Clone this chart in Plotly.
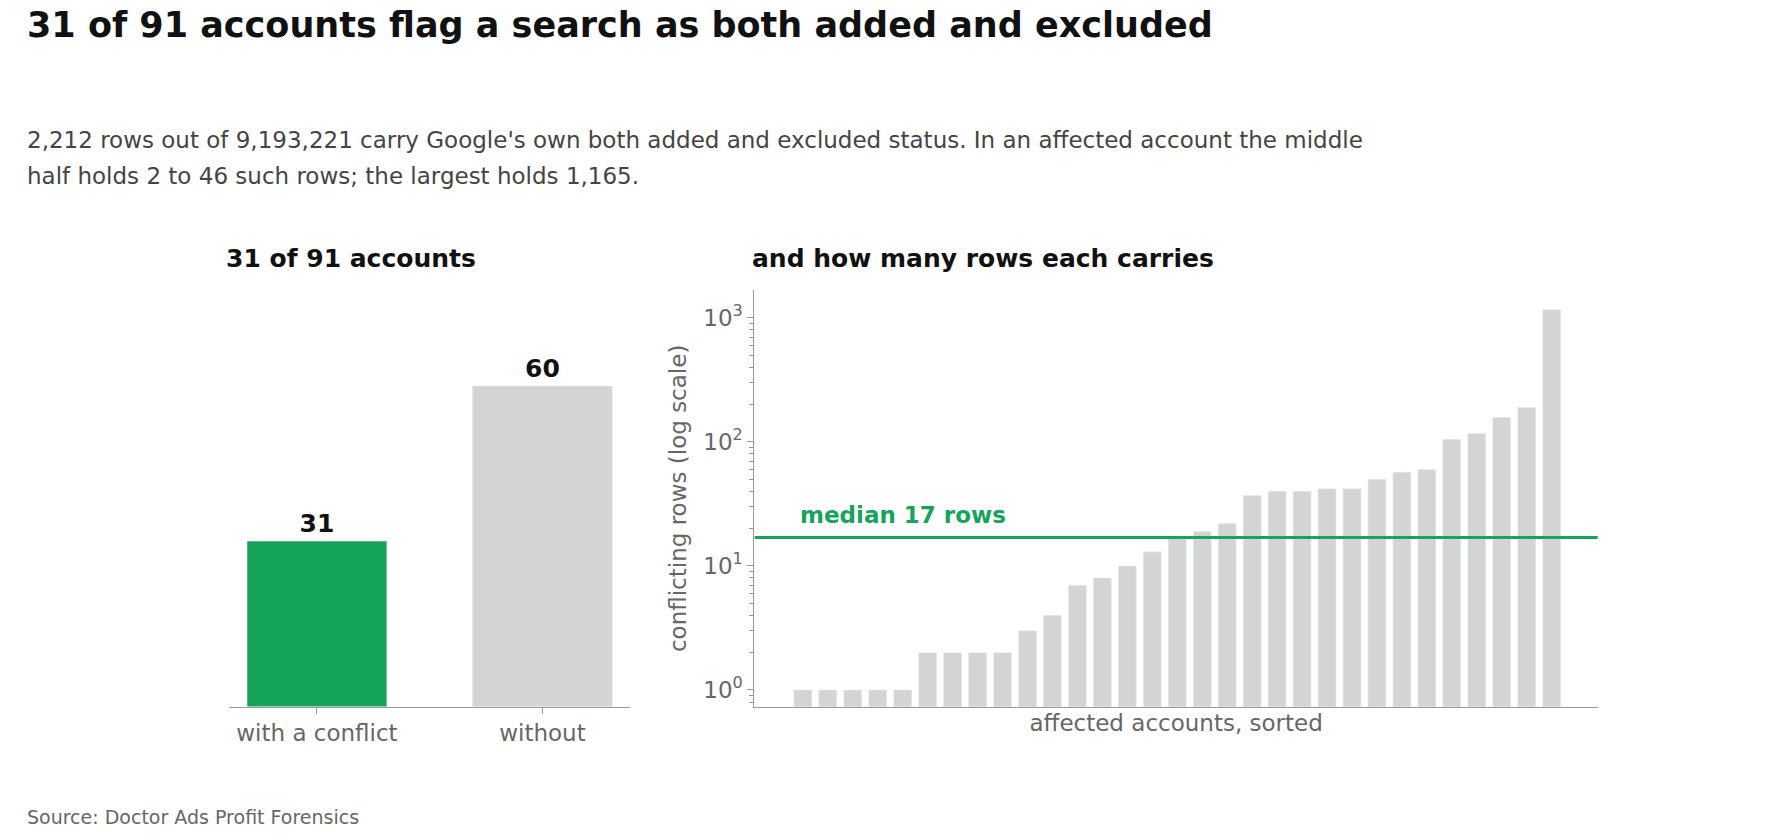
import plotly.graph_objects as go

groups = ["with a conflict", "without"]
group_counts = [31, 60]
group_colors = ["#16a35c", "#d4d4d4"]

# rows per affected account, sorted
rows_per_account = [1, 1, 1, 1, 1, 2, 2, 2, 2, 3, 4, 7, 8, 10, 13, 17, 19, 22,
                    37, 40, 40, 42, 42, 50, 57, 60, 105, 117, 158, 190, 1165]
median_rows = 17

W, H = 1768, 833
# layout measured on a 1568-wide view of the reference
RW, RH = 1568, 739
S = W / RW
FONT = "DejaVu Sans"
GREY = "#666666"

fig = go.Figure()
fig.add_trace(go.Bar(x=[0, 1], y=group_counts, marker_color=group_colors, width=0.62,
                     text=[f"<b>{v}</b>" for v in group_counts], textposition="outside",
                     textfont=dict(size=round(22 * S), color="#111", family=FONT),
                     cliponaxis=False, xaxis="x", yaxis="y", showlegend=False))
fig.add_trace(go.Bar(x=list(range(len(rows_per_account))), y=rows_per_account, width=0.72,
                     marker_color="#d4d4d4", xaxis="x2", yaxis="y2", showlegend=False))
fig.add_trace(go.Scatter(x=[-1.94, 31.85], y=[median_rows, median_rows], mode="lines",
                         line=dict(color="#16a35c", width=3), xaxis="x2", yaxis="y2",
                         showlegend=False, hoverinfo="skip"))

yb, yt = 1 - 620 / RH, 1 - 250 / RH
fs = round(20 * S)
fig.update_layout(
    width=W, height=H, margin=dict(l=0, r=0, t=0, b=0),
    plot_bgcolor="white", paper_bgcolor="white",
    font=dict(family=FONT, color=GREY),
    xaxis=dict(domain=[196 / RW, 552 / RW], range=[-0.39, 1.39], tickvals=[0, 1],
               ticktext=groups, tickfont=dict(size=fs, color=GREY), showline=True,
               linecolor="#999", ticks="outside", tickcolor="#999", ticklen=6,
               showgrid=False, zeroline=False),
    yaxis=dict(domain=[yb, yt], range=[0, 78], visible=False),
    xaxis2=dict(domain=[662 / RW, 1410 / RW], range=[-1.94, 31.85], showticklabels=False,
                showline=True, linecolor="#999", showgrid=False, zeroline=False,
                title=dict(text="affected accounts, sorted", font=dict(size=fs, color=GREY),
                           standoff=8), anchor="y2"),
    yaxis2=dict(domain=[yb, yt], type="log", range=[-0.136, 3.227], anchor="x2",
                tickvals=[1, 10, 100, 1000],
                ticktext=["10<sup>0</sup>", "10<sup>1</sup>", "10<sup>2</sup>", "10<sup>3</sup>"],
                tickfont=dict(size=fs, color=GREY), showline=True, linecolor="#999",
                ticks="outside", tickcolor="#999", ticklen=6,
                minor=dict(ticks="outside", ticklen=4, tickcolor="#999", dtick="D1"),
                showgrid=False, zeroline=False,
                title=dict(text="conflicting rows (log scale)", font=dict(size=fs, color=GREY),
                           standoff=10)),
)

ann = [
    dict(x=15 / RW, y=1 - 15 / RH, text="<b>31 of 91 accounts flag a search as both added and excluded</b>",
         font=dict(size=round(31 * S), color="#111")),
    dict(x=15 / RW, y=1 - 117 / RH, text="2,212 rows out of 9,193,221 carry Google's own both added and excluded status. In an affected account the middle",
         font=dict(size=fs, color="#444")),
    dict(x=15 / RW, y=1 - 149 / RH, text="half holds 2 to 46 such rows; the largest holds 1,165.",
         font=dict(size=fs, color="#444")),
    dict(x=192 / RW, y=1 - 222 / RH, text="<b>31 of 91 accounts</b>", font=dict(size=round(22 * S), color="#111")),
    dict(x=658 / RW, y=1 - 222 / RH, text="<b>and how many rows each carries</b>", font=dict(size=round(22 * S), color="#111")),
    dict(x=701 / RW, y=1 - 450 / RH, text="<b>median 17 rows</b>", font=dict(size=fs, color="#16a35c")),
    dict(x=15 / RW, y=1 - 718 / RH, text="Source: Doctor Ads Profit Forensics", font=dict(size=round(17 * S), color=GREY)),
]
for a in ann:
    fig.add_annotation(xref="paper", yref="paper", xanchor="left", yanchor="middle",
                       showarrow=False, **a)

fig.write_html("out.html")
